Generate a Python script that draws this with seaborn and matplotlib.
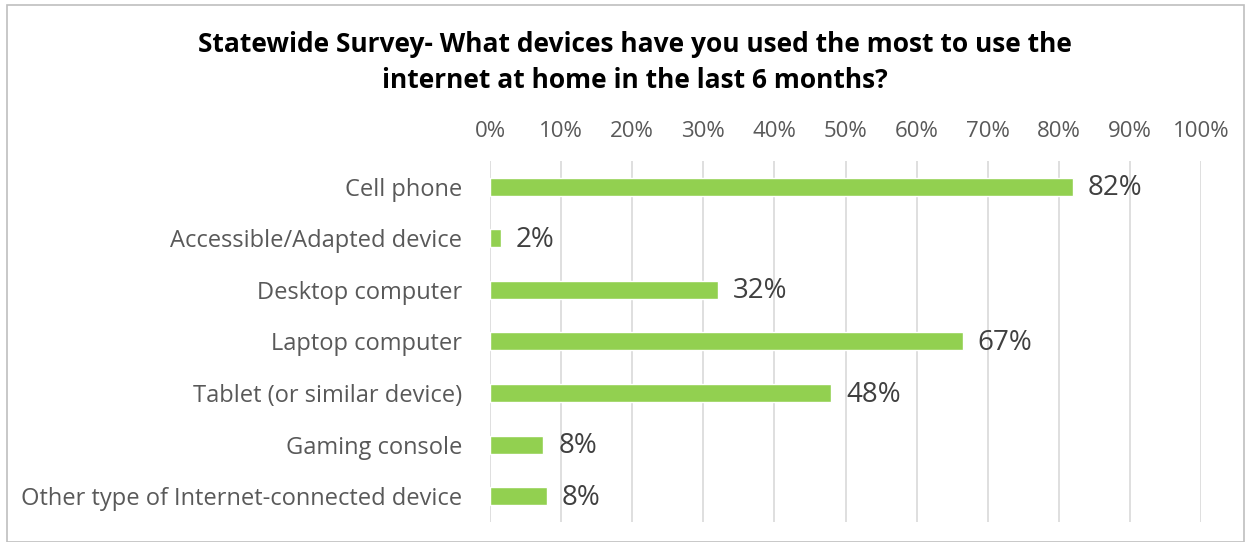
import matplotlib
matplotlib.use("Agg")
import matplotlib.pyplot as plt
import seaborn as sns
import pandas as pd
from matplotlib.patches import Rectangle
from matplotlib.ticker import FuncFormatter, MultipleLocator

categories = [
    "Cell phone",
    "Accessible/Adapted device",
    "Desktop computer",
    "Laptop computer",
    "Tablet (or similar device)",
    "Gaming console",
    "Other type of Internet-connected device",
]
values = [82, 1.5, 32, 66.5, 48, 7.5, 8]
value_labels = ["82%", "2%", "32%", "67%", "48%", "8%", "8%"]
title = "Statewide Survey- What devices have you used the most to use the\ninternet at home in the last 6 months?"

sns.set_theme(style="white")
plt.rcParams["font.family"] = ["Open Sans", "DejaVu Sans"]

df = pd.DataFrame({"device": categories, "pct": values})

fig = plt.figure(figsize=(12.49, 5.42), dpi=100)
ax = fig.add_axes([0.3923, 0.037, 0.5693, 0.666])

sns.barplot(data=df, x="pct", y="device", color="#92d050", saturation=1,
            width=0.35, ax=ax, zorder=3)

ax.set_xlim(0, 100)
ax.xaxis.set_major_locator(MultipleLocator(10))
ax.xaxis.set_major_formatter(FuncFormatter(lambda v, p: f"{int(round(v))}%"))
ax.xaxis.tick_top()
ax.xaxis.set_label_position("top")
ax.set_xlabel("")
ax.set_ylabel("")
ax.grid(axis="x", color="#d9d9d9", linewidth=1.2, zorder=0)
ax.grid(axis="y", visible=False)
for s in ax.spines.values():
    s.set_visible(False)
ax.tick_params(axis="x", length=0, pad=14, labelsize=16, labelcolor="#595959")
ax.tick_params(axis="y", length=0, pad=20, labelsize=17, labelcolor="#595959")

for i, (v, lab) in enumerate(zip(values, value_labels)):
    ax.text(v + 2.1, i + 0.03, lab, va="center", ha="left", fontsize=20, color="#404040")

fig.text(0.508, 0.885, title, ha="center", va="center", fontsize=19,
         fontweight="bold", color="#000000", linespacing=1.45)

fig.patches.append(Rectangle((0.006, 0.0), 0.99, 0.99, transform=fig.transFigure,
                             fill=False, edgecolor="#bfbfbf", linewidth=1.2))

fig.savefig("out.png", dpi=100)
